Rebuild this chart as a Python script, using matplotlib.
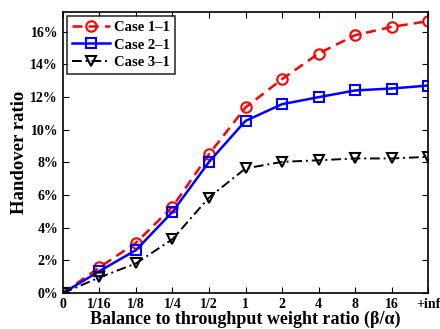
import matplotlib
matplotlib.use("Agg")
import matplotlib.pyplot as plt
from matplotlib.ticker import FuncFormatter

plt.rcParams['font.family'] = ['Liberation Serif', 'DejaVu Serif']
plt.rcParams['font.weight'] = 'bold'
plt.rcParams['mathtext.fontset'] = 'stix'

x_labels = ['0', '1/16', '1/8', '1/4', '1/2', '1', '2', '4', '8', '16', '+inf']
case1 = [0.0, 1.57, 3.08, 5.28, 8.5, 11.36, 13.09, 14.66, 15.78, 16.29, 16.64]
case2 = [0.0, 1.35, 2.63, 4.97, 8.03, 10.54, 11.56, 11.99, 12.4, 12.52, 12.7]
case3 = [0.0, 0.96, 1.82, 3.3, 5.85, 7.63, 8.03, 8.13, 8.24, 8.24, 8.34]
y_ticks = [0, 2, 4, 6, 8, 10, 12, 14, 16]

fig = plt.figure(figsize=(4.4, 3.29), dpi=100)
ax = fig.add_axes([0.143, 0.109, 0.830, 0.8545])
xs = list(range(len(x_labels)))
ax.plot(xs, case1, color='#ff0000', linestyle=(0, (4, 2.5)), linewidth=1.8, marker='o',
        markersize=7.5, markerfacecolor='none', markeredgewidth=1.5, label='Case 1\u20131')
ax.plot(xs, case2, color='#0000ff', linestyle='-', linewidth=1.8, marker='s',
        markersize=6.5, markerfacecolor='none', markeredgewidth=1.5, label='Case 2\u20131')
ax.plot(xs, case3, color='black', linestyle=(0, (5, 2, 1, 2)), linewidth=1.4, marker='v',
        markersize=7.5, markerfacecolor='none', markeredgewidth=1.5, label='Case 3\u20131')

ax.set_xlim(0, 10)
ax.set_ylim(0, 17.2)
ax.set_xticks(xs)
ax.set_xticklabels(x_labels)
ax.set_yticks(y_ticks)
ax.yaxis.set_major_formatter(FuncFormatter(lambda v, p: f'{int(v)}%'))
ax.tick_params(direction='in', top=True, right=True, labelsize=10, length=4, width=0.8)
for lbl in ax.get_xticklabels() + ax.get_yticklabels():
    lbl.set_fontweight('bold')
for s in ax.spines.values():
    s.set_linewidth(1.2)
ax.set_xlabel('Balance to throughput weight ratio (\u03b2/\u03b1)', fontsize=13, fontweight='bold', labelpad=0)
ax.set_ylabel('Handover ratio', fontsize=13.5, fontweight='bold', labelpad=2)
leg = ax.legend(loc='upper left', fontsize=10.5, frameon=True, fancybox=False, edgecolor='black',
                handlelength=2.6, borderpad=0.35, labelspacing=0.3, borderaxespad=0.25, handletextpad=0.3)
leg.get_frame().set_linewidth(1.2)
fig.savefig('out.png', dpi=100)
